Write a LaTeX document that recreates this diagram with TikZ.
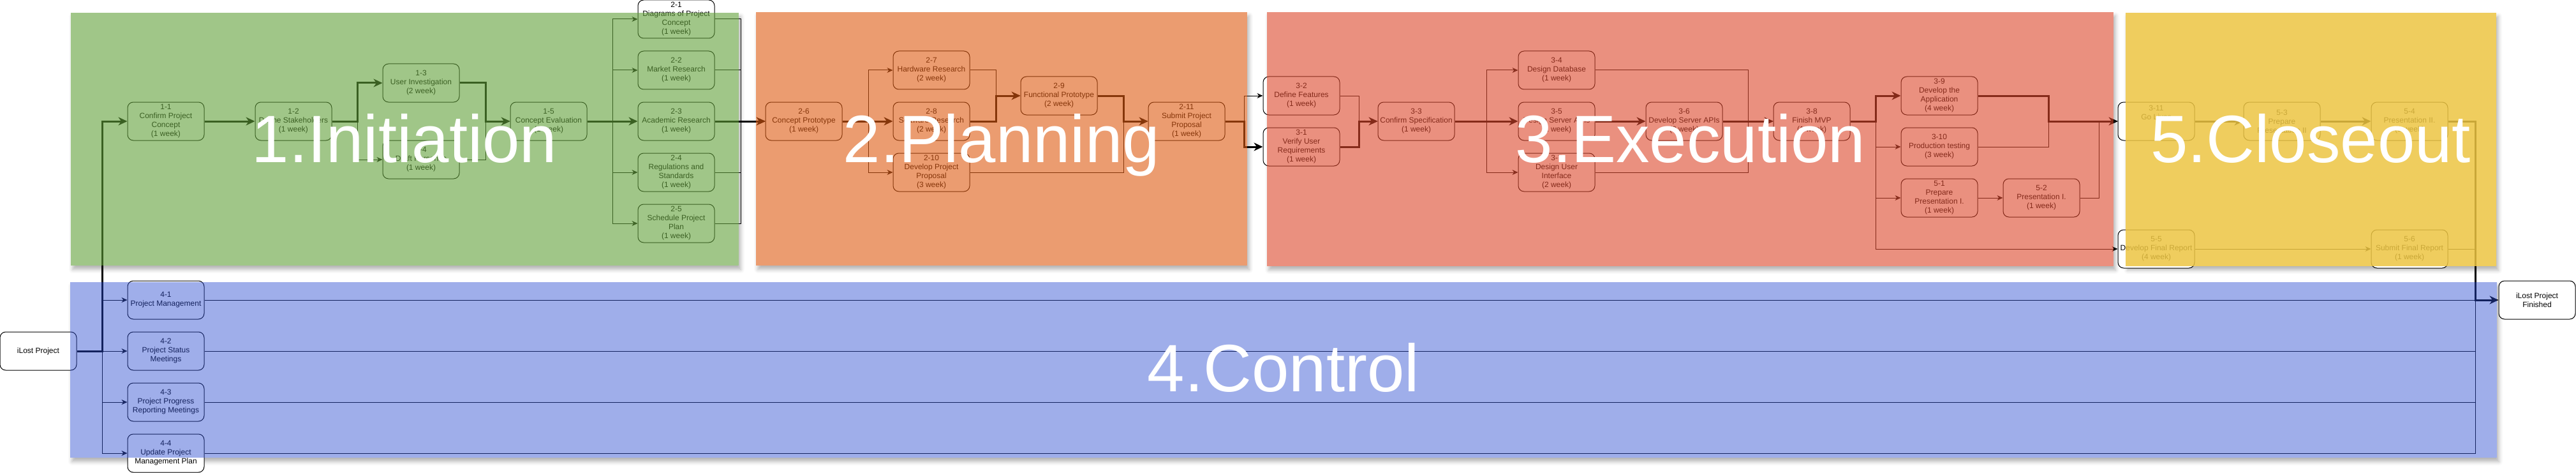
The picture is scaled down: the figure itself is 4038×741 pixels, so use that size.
\documentclass[tikz,border=0pt]{standalone}
\usepackage{fontspec}
\setmainfont{Liberation Sans}
\usetikzlibrary{arrows.meta,shadows.blur}

\definecolor{initC}{RGB}{98,160,58}
\definecolor{planC}{RGB}{223,90,17}
\definecolor{execC}{RGB}{220,70,43}
\definecolor{closeC}{RGB}{237,197,66}
\definecolor{ctrlC}{RGB}{44,76,209}

\tikzset{
  task/.style={draw, fill=white, rounded corners=9pt, line width=1pt,
    minimum width=120pt, minimum height=60pt, inner sep=0pt, align=center,
    font=\fontsize{12}{14}\selectfont},
  wire/.style={line width=1pt},
  link/.style={line width=1pt, -{Stealth[length=9pt,width=8pt]}},
  crit/.style={line width=3pt, -{Stealth[length=14pt,width=13pt]}},
  base/.style={fill=white, blur shadow={shadow xshift=3pt, shadow yshift=-6pt,
    shadow blur radius=6pt, shadow opacity=30}},
  lane/.style 2 args={fill=#1, fill opacity=#2},
  phase/.style={text=white, anchor=base, inner sep=0pt,
    font=\fontsize{105}{105}\selectfont}
}

\begin{document}
\begin{tikzpicture}[x=1pt, y=-1pt]
  \useasboundingbox (0,0) rectangle (4038,741);

  \path[base] (111,20) rectangle (1158,416);
  \path[base] (1185,19) rectangle (1955,416);
  \path[base] (1986,19) rectangle (3313,417);
  \path[base] (3332,20) rectangle (3913,417);
  \path[base] (110,442) rectangle (3914,717);

  \node[task] (start) at (60,550) {iLost Project};
  \node[task] (finish) at (3977,470) {iLost Project\\Finished};

  \node[task] (n11) at (260,190) {1-1\\Confirm Project\\Concept\\(1 week)};
  \node[task] (n12) at (460,190) {1-2\\Define Stakeholders\\(1 week)};
  \node[task] (n13) at (660,130) {1-3\\User Investigation\\(2 week)};
  \node[task] (n14) at (660,250) {1-4\\Draft Personas\\(1 week)};
  \node[task] (n15) at (860,190) {1-5\\Concept Evaluation\\(1 week)};
  \node[task] (n21) at (1060,30) {2-1\\Diagrams of Project\\Concept\\(1 week)};
  \node[task] (n22) at (1060,110) {2-2\\Market Research\\(1 week)};
  \node[task] (n23) at (1060,190) {2-3\\Academic Research\\(1 week)};
  \node[task] (n24) at (1060,270) {2-4\\Regulations and\\Standards\\(1 week)};
  \node[task] (n25) at (1060,350) {2-5\\Schedule Project\\Plan\\(1 week)};

  \node[task] (n26) at (1260,190) {2-6\\Concept Prototype\\(1 week)};
  \node[task] (n27) at (1460,110) {2-7\\Hardware Research\\(2 week)};
  \node[task] (n28) at (1460,190) {2-8\\Software Research\\(2 week)};
  \node[task] (n210) at (1460,270) {2-10\\Develop Project\\Proposal\\(3 week)};
  \node[task] (n29) at (1660,150) {2-9\\Functional Prototype\\(2 week)};
  \node[task] (n211) at (1860,190) {2-11\\Submit Project\\Proposal\\(1 week)};

  \node[task] (n32) at (2040,150) {3-2\\Define Features\\(1 week)};
  \node[task] (n31) at (2040,230) {3-1\\Verify User\\Requirements\\(1 week)};
  \node[task] (n33) at (2220,190) {3-3\\Confirm Specification\\(1 week)};
  \node[task] (n34) at (2440,110) {3-4\\Design Database\\(1 week)};
  \node[task] (n35) at (2440,190) {3-5\\Design Server APIs\\(1 week)};
  \node[task] (n37) at (2440,270) {3-7\\Design User\\Interface\\(2 week)};
  \node[task] (n36) at (2640,190) {3-6\\Develop Server APIs\\(2 week)};
  \node[task] (n38) at (2840,190) {3-8\\Finish MVP\\(1 week)};
  \node[task] (n39) at (3040,150) {3-9\\Develop the\\Application\\(4 week)};
  \node[task] (n310) at (3040,230) {3-10\\Production testing\\(3 week)};
  \node[task] (n51) at (3040,310) {5-1\\Prepare\\Presentation I.\\(1 week)};
  \node[task] (n52) at (3200,310) {5-2\\Presentation I.\\(1 week)};

  \node[task] (n311) at (3380,190) {3-11\\Go Lives\\[14pt]};
  \node[task] (n53) at (3577,190) {5-3\\Prepare\\Presentation II};
  \node[task] (n54) at (3777,190) {5-4\\Presentation II.\\(1 week)};
  \node[task] (n55) at (3380,390) {5-5\\Develop Final Report\\(4 week)};
  \node[task] (n56) at (3777,390) {5-6\\Submit Final Report\\(1 week)};

  \node[task] (n41) at (260,470) {4-1\\Project Management};
  \node[task] (n42) at (260,550) {4-2\\Project Status\\Meetings};
  \node[task] (n43) at (260,630) {4-3\\Project Progress\\Reporting Meetings};
  \node[task] (n44) at (260,710) {4-4\\Update Project\\Management Plan};

  \coordinate (fork) at (160,550);
  \coordinate (bus) at (3880,470);

  \draw[crit] (start) -- (fork) |- (n11);
  \foreach \t in {41,42,43,44}
    \draw[link] (fork) |- (n\t);

  \draw[crit] (n11) -- (n12);
  \draw[crit] (n12.east) -- ++(40,0) |- (n13);
  \draw[link] (n12.east) -- ++(40,0) |- (n14);
  \draw[crit] (n13.east) -- ++(41,0) |- (n15);
  \draw[link] (n14.east) -- ++(41,0) |- (n15);
  \draw[crit] (n15) -- (n23);
  \foreach \t in {21,22,24,25} {
    \draw[link] (n15.east) -- ++(40,0) |- (n\t);
    \draw[link] (n\t.east) -- ++(41,0) |- (n26);
  }
  \draw[crit] (n23) -- (n26);

  \draw[link] (n26.east) -- ++(41,0) |- (n27);
  \draw[crit] (n26) -- (n28);
  \draw[link] (n26.east) -- ++(41,0) |- (n210);
  \draw[link] (n27.east) -- ++(41,0) |- (n29);
  \draw[crit] (n28.east) -- ++(41,0) |- (n29);
  \draw[crit] (n29.east) -- ++(41,0) |- (n211);
  \draw[link] (n210.east) -- ++(241,0) |- (n211);

  \draw[link] (n211.east) -- ++(30,0) |- (n32);
  \draw[crit] (n211.east) -- ++(30,0) |- (n31);
  \draw[link] (n32.east) -- ++(30,0) |- (n33);
  \draw[crit] (n31.east) -- ++(30,0) |- (n33);
  \draw[link] (n33.east) -- ++(50,0) |- (n34);
  \draw[crit] (n33) -- (n35);
  \draw[link] (n33.east) -- ++(50,0) |- (n37);
  \draw[crit] (n35) -- (n36);
  \draw[link] (n34.east) -- ++(240,0) |- (n38);
  \draw[link] (n37.east) -- ++(240,0) |- (n38);
  \draw[crit] (n36) -- (n38);
  \draw[crit] (n38.east) -- ++(40,0) |- (n39);
  \foreach \t in {310,51,55}
    \draw[link] (n38.east) -- ++(40,0) |- (n\t);
  \draw[crit] (n39.east) -- ++(111,0) |- (n311);
  \draw[link] (n310.east) -- ++(111,0) |- (n311);
  \draw[link] (n51) -- (n52);
  \draw[link] (n52.east) -- ++(30,0) |- (n311);

  \draw[crit] (n311) -- (n53);
  \draw[crit] (n53) -- (n54);
  \draw[link] (n55) -- (n56);
  \draw[crit] (n54.east) -| (bus) -- (finish);
  \draw[wire] (n56.east) -| (bus);
  \draw[wire] (n41) -- (bus);
  \foreach \t in {42,43,44}
    \draw[wire] (n\t.east) -| (bus);

  \fill[lane={initC}{0.6}] (111,20) rectangle (1158,416);
  \fill[lane={planC}{0.6}] (1185,19) rectangle (1955,416);
  \fill[lane={execC}{0.6}] (1986,19) rectangle (3313,417);
  \fill[lane={closeC}{0.85}] (3332,20) rectangle (3913,417);
  \fill[lane={ctrlC}{0.45}] (110,442) rectangle (3914,717);

  \node[phase] (lbl1) at (634,254) {1.Initiation};
  \node[phase] (lbl2) at (1570,254) {2.Planning};
  \node[phase] (lbl3) at (2650,254) {3.Execution};
  \node[phase] (lbl5) at (3622,254) {5.Closeout};
  \node[phase] (lbl4) at (2012,613) {4.Control};
\end{tikzpicture}
\end{document}
